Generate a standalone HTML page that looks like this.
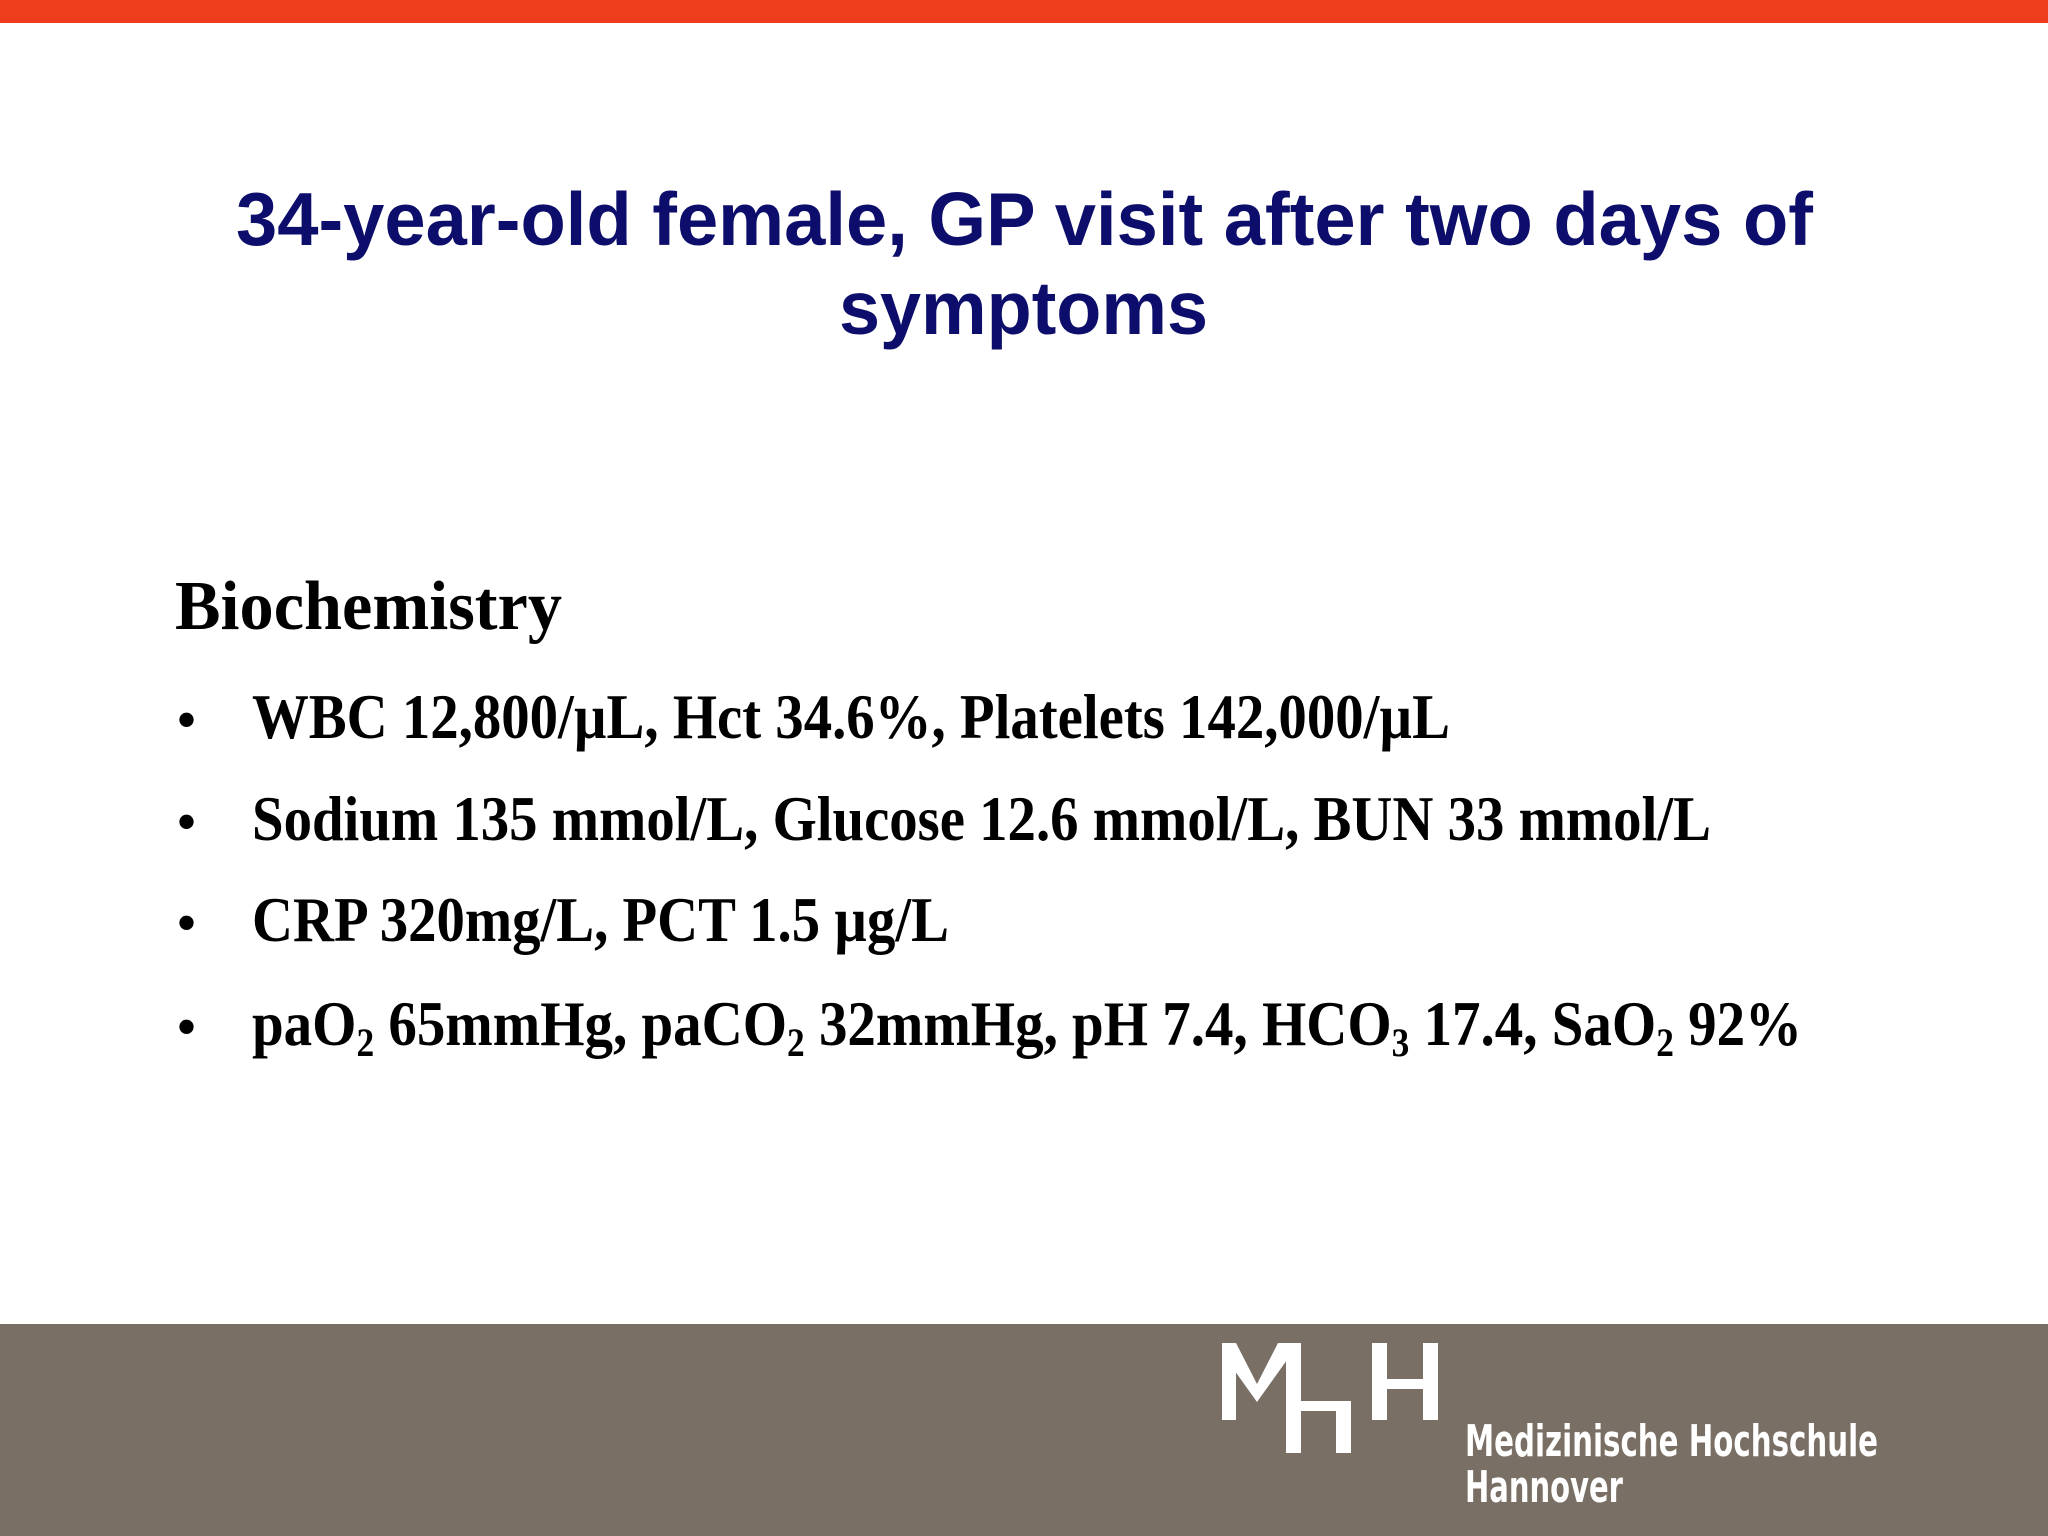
<!DOCTYPE html>
<html><head><meta charset="utf-8"><style>
html,body{margin:0;padding:0}
body{width:2048px;height:1536px;position:relative;overflow:hidden;background:#fff}
.abs{position:absolute;white-space:nowrap}
.title{font-family:"Liberation Sans",sans-serif;font-weight:bold;color:#0d0d6b;font-size:75px;line-height:1}
.ser{font-family:"Liberation Serif",serif;font-weight:bold;color:#000;line-height:1}
.fit{display:inline-block;transform-origin:0 0}
sub{font-size:0.62em;vertical-align:-0.28em;line-height:0}
.bul{font-family:"Liberation Serif",serif;color:#000;font-size:60px;line-height:1}
</style></head><body>
<div class="abs" style="left:0;top:0;width:2048px;height:23px;background:#ee3d1c"></div>

<div class="abs title" style="left:0;width:2048px;top:0">
  <div class="abs fitc" data-w="1577" style="left:236px;top:182px"><span class="fit">34-year-old female, GP visit after two days of</span></div>
  <div class="abs fitc" data-w="369" style="left:839px;top:271px"><span class="fit">symptoms</span></div>
</div>

<div class="abs ser fitc" data-w="387" style="left:175px;top:572px;font-size:70px"><span class="fit">Biochemistry</span></div>

<div>
 <div class="abs bul" style="left:176px;top:690px">•</div>
 <div class="abs ser fitc" data-w="1198" style="left:252px;top:685px;font-size:64px"><span class="fit">WBC 12,800/µL, Hct 34.6%, Platelets 142,000/µL</span></div>
 <div class="abs bul" style="left:176px;top:792px">•</div>
 <div class="abs ser fitc" data-w="1459" style="left:252px;top:787px;font-size:64px"><span class="fit">Sodium 135 mmol/L, Glucose 12.6 mmol/L, BUN 33 mmol/L</span></div>
 <div class="abs bul" style="left:176px;top:893px">•</div>
 <div class="abs ser fitc" data-w="697" style="left:252px;top:888px;font-size:64px"><span class="fit">CRP 320mg/L, PCT 1.5 µg/L</span></div>
 <div class="abs bul" style="left:176px;top:997px">•</div>
 <div class="abs ser fitc" data-w="1550" style="left:252px;top:992px;font-size:64px"><span class="fit">paO<sub>2</sub> 65mmHg, paCO<sub>2</sub> 32mmHg, pH 7.4, HCO<sub>3</sub> 17.4, SaO<sub>2</sub> 92%</span></div>
</div>

<div class="abs" style="left:0;top:1324px;width:2048px;height:212px;background:#7a6f65"></div>
<svg class="abs" style="left:0;top:0" width="2048" height="1536">
 <g fill="#fff">
  <rect x="1222" y="1343" width="14" height="77"/>
  <polygon points="1222,1343 1236,1343 1257,1384 1278,1343 1292,1343 1292,1353 1257,1402 1222,1353"/>
  <rect x="1286" y="1343" width="15" height="110"/>
  <rect x="1300" y="1401" width="37" height="10"/>
  <rect x="1336" y="1401" width="15" height="52"/>
  <rect x="1372" y="1343" width="15" height="77"/>
  <rect x="1386" y="1379" width="37" height="10"/>
  <rect x="1423" y="1343" width="15" height="77"/>
 </g>
</svg>
<div class="abs fitc" data-w="413" style="left:1465px;top:1420px;font-family:'DejaVu Sans','Liberation Sans',sans-serif;font-weight:bold;color:#fff;font-size:44px;line-height:1"><span class="fit">Medizinische Hochschule</span></div>
<div class="abs fitc" data-w="158" style="left:1465px;top:1466px;font-family:'DejaVu Sans','Liberation Sans',sans-serif;font-weight:bold;color:#fff;font-size:44px;line-height:1"><span class="fit">Hannover</span></div>
<script>
document.querySelectorAll('.fitc').forEach(function(d){
  var s=d.querySelector('.fit');var w=s.getBoundingClientRect().width;
  var t=parseFloat(d.getAttribute('data-w'));
  if(w>0)s.style.transform='scaleX('+(t/w)+')';
});
</script>
</body></html>
